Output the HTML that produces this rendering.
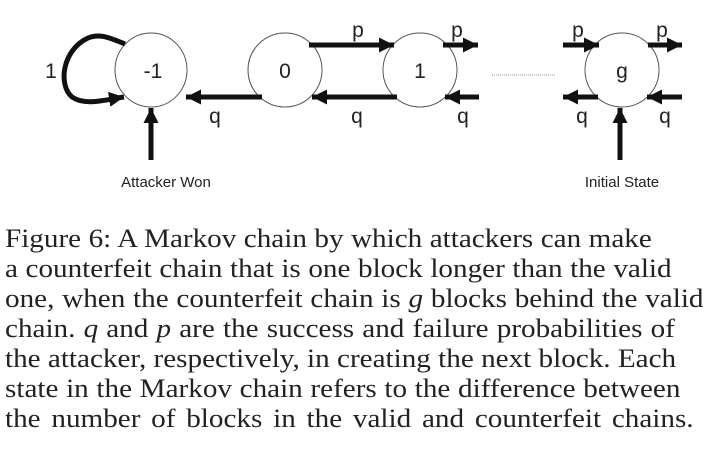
<!DOCTYPE html>
<html><head><meta charset="utf-8"><style>
body{margin:0;width:711px;height:451px;background:#fff;overflow:hidden;position:relative}
svg{position:absolute;left:0;top:0}
.cap{position:absolute;left:5px;font-family:"Liberation Serif",serif;font-size:26.5px;line-height:30px;color:#222;white-space:nowrap;text-align:justify;text-align-last:justify;transform:scaleX(1.1);transform-origin:0 0}
</style></head><body>
<svg width="711" height="200" font-family="Liberation Sans, sans-serif">
<defs><marker id="ah" markerWidth="3" markerHeight="3" refX="3" refY="1.5" orient="auto" markerUnits="strokeWidth"><path d="M0,0 L3,1.5 L0,3 z" fill="#111"/></marker></defs>
<g fill="none" stroke="#555" stroke-width="1">
<ellipse cx="151" cy="70" rx="36" ry="37"/>
<ellipse cx="285" cy="70" rx="37" ry="37"/>
<ellipse cx="420" cy="70" rx="37" ry="37"/>
<ellipse cx="622" cy="70" rx="37" ry="37"/>
</g>
<g stroke="#111" stroke-width="5" fill="none" marker-end="url(#ah)">
<path d="M125,44 C110,38 100,33 88,38 C62,50 58,85 72,97 C85,106 105,100 124,97"/>
<line x1="309" y1="45" x2="394" y2="45"/>
<line x1="443" y1="45" x2="478" y2="45"/>
<line x1="397" y1="97" x2="312" y2="97"/>
<line x1="262" y1="97" x2="186" y2="97"/>
<line x1="479" y1="97" x2="445" y2="97"/>
<line x1="563" y1="45" x2="599" y2="45"/>
<line x1="648" y1="45" x2="682" y2="45"/>
<line x1="598" y1="97" x2="563" y2="97"/>
<line x1="682" y1="97" x2="647" y2="97"/>
<line x1="151" y1="160" x2="151" y2="108"/>
<line x1="620" y1="160" x2="620" y2="108"/>
</g>
<line x1="492" y1="75" x2="555" y2="75" stroke="#999" stroke-dasharray="1,1"/>
<g font-size="21" fill="#222" text-anchor="middle">
<text x="153" y="78">-1</text><text x="285" y="78">0</text><text x="420" y="78">1</text><text x="622" y="78">g</text>
<text x="51" y="78">1</text>
<text x="358" y="37">p</text><text x="457" y="37">p</text><text x="578" y="37">p</text><text x="662" y="37">p</text>
<text x="215" y="123">q</text><text x="357" y="123">q</text><text x="463" y="123">q</text><text x="582" y="123">q</text><text x="665" y="123">q</text>
</g>
<g font-size="15" fill="#222" text-anchor="middle">
<text x="166" y="187">Attacker Won</text><text x="622" y="187">Initial State</text>
</g>
</svg>
<div>
<div class="cap" style="top:223px;width:588px">Figure 6: A Markov chain by which attackers can make</div>
<div class="cap" style="top:253px;width:606px">a counterfeit chain that is one block longer than the valid</div>
<div class="cap" style="top:283px;width:635px">one, when the counterfeit chain is <i>g</i> blocks behind the valid</div>
<div class="cap" style="top:313px;width:609px">chain. <i>q</i> and <i>p</i> are the success and failure probabilities of</div>
<div class="cap" style="top:343px;width:610px">the attacker, respectively, in creating the next block. Each</div>
<div class="cap" style="top:373px;width:614px">state in the Markov chain refers to the difference between</div>
<div class="cap" style="top:403px;width:626px">the number of blocks in the valid and counterfeit chains.</div>
</div>
</body></html>
